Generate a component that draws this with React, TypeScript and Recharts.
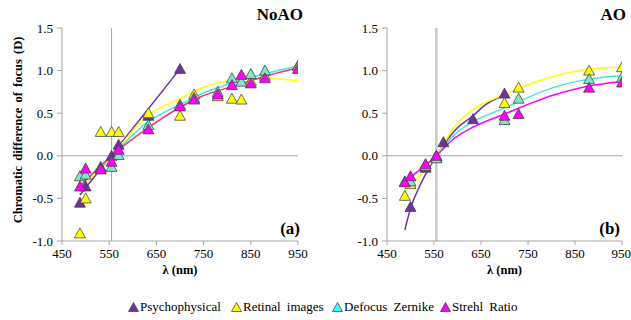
import React from "react";
import {
  ComposedChart,
  Scatter,
  Line,
  XAxis,
  YAxis,
  ReferenceLine,
} from "recharts";

// measured points, NoAO panel (a)
const noaoPsyWl = [488, 500, 532, 555, 570, 633, 700];
const noaoPsy = [-0.55, -0.36, -0.13, 0.0, 0.13, 0.47, 1.02];
const noaoWl = [488, 500, 532, 555, 570, 633, 700, 730, 780, 810, 830, 850, 880, 950];
const noaoRet = [-0.91, -0.5, 0.28, 0.28, 0.28, 0.5, 0.47, 0.72, 0.7, 0.67, 0.66, 0.88, 0.94, 1.06];
const noaoZer = [-0.24, -0.22, -0.15, -0.13, 0.01, 0.36, 0.6, 0.68, 0.75, 0.91, 0.87, 0.96, 1.0, 1.05];
const noaoStr = [-0.36, -0.15, -0.16, -0.07, 0.07, 0.31, 0.58, 0.66, 0.72, 0.83, 0.95, 0.85, 0.91, 1.02];

// measured points, AO panel (b)
const aoPsyWl = [500, 532, 555, 570, 633, 700];
const aoPsy = [-0.6, -0.14, 0.0, 0.16, 0.43, 0.73];
const aoWl = [488, 500, 532, 555, 700, 730, 880, 950];
const aoRet = [-0.47, -0.33, -0.1, -0.02, 0.62, 0.8, 1.0, 1.04];
const aoZer = [-0.3, -0.3, -0.12, -0.03, 0.42, 0.67, 0.9, 0.92];
const aoStr = [-0.31, -0.24, -0.1, 0.0, 0.47, 0.49, 0.8, 0.86];

// trendlines
const noaoPsyFitWl = [488, 700];
const noaoPsyFit = [-0.46, 1.02];
const noaoFitWl = [488, 555, 633, 700, 743, 814, 885, 949];
const noaoRetFit = [-0.4, 0.0, 0.48, 0.67, 0.79, 0.89, 0.91, 0.88];
const noaoZerFit = [-0.35, 0.0, 0.4, 0.6, 0.72, 0.86, 0.97, 1.05];
const noaoStrFit = [-0.36, 0.0, 0.33, 0.57, 0.69, 0.82, 0.94, 1.03];

const aoPsyFitWl = [488, 500, 520, 555, 600, 633, 660, 700];
const aoPsyFit = [-0.87, -0.62, -0.35, 0.0, 0.33, 0.47, 0.6, 0.71];
const aoFitWl = [488, 555, 592, 627, 700, 803, 880, 946];
const aoRetFit = [-0.42, 0.0, 0.33, 0.52, 0.72, 0.93, 1.02, 1.04];
const aoZerFit = [-0.3, 0.0, 0.24, 0.38, 0.56, 0.8, 0.9, 0.94];
const aoStrFit = [-0.3, 0.0, 0.2, 0.32, 0.49, 0.71, 0.82, 0.87];

const xTicks = [450, 550, 650, 750, 850, 950];
const yTicks = [-1, -0.5, 0, 0.5, 1, 1.5];

const legendNames = ["Psychophysical", "Retinal images", "Defocus Zernike", "Strehl Ratio"];
const legendColors = ["#7030A0", "#FFFF00", "#33FFFF", "#FF00FF"];

const FONT = "Liberation Serif, DejaVu Serif, serif";
const AXIS = "#A6A6A6";

const zip = (xs: number[], ys: number[]) => xs.map((x, i) => ({ x, y: ys[i] }));

const tri = (fill: string) => (props: any) => {
  const { cx, cy } = props;
  if (cx == null || cy == null) return <g />;
  return (
    <polygon
      points={`${cx},${cy - 5.5} ${cx + 5.5},${cy + 4.5} ${cx - 5.5},${cy + 4.5}`}
      fill={fill}
      stroke="#404040"
      strokeWidth={0.75}
    />
  );
};

interface Series {
  pts: { x: number; y: number }[];
  fit: { x: number; y: number }[];
  marker: string;
  line: string;
}

interface PanelProps {
  series: Series[];
  marginLeft: number;
  marginRight: number;
  width: number;
  refWidth: number;
  refColor: string;
}

const Panel: React.FC<PanelProps> = ({ series, marginLeft, marginRight, width, refWidth, refColor }) => (
  <ComposedChart
    width={width}
    height={320}
    margin={{ top: 28, right: marginRight, bottom: 49, left: marginLeft }}
    style={{ fontFamily: FONT }}
  >
    <XAxis
      type="number"
      dataKey="x"
      domain={[450, 950]}
      ticks={xTicks}
      allowDataOverflow
      height={30}
      stroke={AXIS}
      tickSize={4}
      tickMargin={4}
      tick={{ fill: "#000", fontSize: 13, fontFamily: FONT }}
      label={{
        value: "λ (nm)",
        position: "bottom",
        offset: -6,
        fill: "#000",
        fontSize: 12.5,
        fontWeight: "bold",
        fontFamily: FONT,
      }}
    />
    <YAxis
      type="number"
      dataKey="y"
      domain={[-1, 1.5]}
      ticks={yTicks}
      allowDataOverflow
      width={40}
      stroke={AXIS}
      tickSize={5}
      tickMargin={4}
      tickFormatter={(v: number) => v.toFixed(1)}
      tick={{ fill: "#000", fontSize: 13, fontFamily: FONT }}
    />
    <ReferenceLine y={0} stroke={AXIS} />
    <ReferenceLine x={555} stroke={refColor} strokeWidth={refWidth} />
    {series.map((s, i) => (
      <Scatter
        key={"s" + i}
        data={s.pts}
        dataKey="y"
        shape={tri(s.marker)}
        isAnimationActive={false}
      />
    ))}
    {series.map((s, i) => (
      <Line
        key={"l" + i}
        data={s.fit}
        dataKey="y"
        type="monotone"
        stroke={s.line}
        strokeWidth={1.5}
        dot={false}
        activeDot={false}
        isAnimationActive={false}
      />
    ))}
  </ComposedChart>
);

const noaoSeries: Series[] = [
  { pts: zip(noaoPsyWl, noaoPsy), fit: zip(noaoPsyFitWl, noaoPsyFit), marker: "#7030A0", line: "#7030A0" },
  { pts: zip(noaoWl, noaoRet), fit: zip(noaoFitWl, noaoRetFit), marker: "#FFFF00", line: "#FFFF00" },
  { pts: zip(noaoWl, noaoZer), fit: zip(noaoFitWl, noaoZerFit), marker: "#80E6C8", line: "#40E8D0" },
  { pts: zip(noaoWl, noaoStr), fit: zip(noaoFitWl, noaoStrFit), marker: "#FF00FF", line: "#F0338A" },
];

const aoSeries: Series[] = [
  { pts: zip(aoPsyWl, aoPsy), fit: zip(aoPsyFitWl, aoPsyFit), marker: "#7030A0", line: "#7030A0" },
  { pts: zip(aoWl, aoRet), fit: zip(aoFitWl, aoRetFit), marker: "#FFFF00", line: "#FFFF00" },
  { pts: zip(aoWl, aoZer), fit: zip(aoFitWl, aoZerFit), marker: "#80E6C8", line: "#40E8D0" },
  { pts: zip(aoWl, aoStr), fit: zip(aoFitWl, aoStrFit), marker: "#FF00FF", line: "#FF00FF" },
];

const bold: React.CSSProperties = {
  position: "absolute",
  fontFamily: FONT,
  fontWeight: "bold",
  color: "#000",
  whiteSpace: "nowrap",
};

const legendLefts = [128, 231, 332, 440];

export default function App() {
  return (
    <div
      style={{
        position: "absolute",
        left: 0,
        top: 0,
        width: 631,
        height: 320,
        background: "#fff",
        overflow: "hidden",
        fontFamily: FONT,
      }}
    >
      <div style={{ position: "absolute", left: 0, top: 0 }}>
        <Panel series={noaoSeries} width={316} marginLeft={22} marginRight={18} refWidth={1} refColor={AXIS} />
      </div>
      <div style={{ position: "absolute", left: 316, top: 0 }}>
        <Panel series={aoSeries} width={315} marginLeft={31} marginRight={9} refWidth={2.5} refColor="#C8C8C8" />
      </div>

      <div
        style={{
          ...bold,
          fontSize: 12.5,
          width: 240,
          height: 16,
          lineHeight: "16px",
          textAlign: "center",
          left: 18 - 120,
          top: 130 - 8,
          transform: "rotate(-90deg)",
          wordSpacing: 2,
        }}
      >
        Chromatic difference of focus (D)
      </div>

      <div style={{ ...bold, fontSize: 17, right: 631 - 303, top: 5, lineHeight: "20px" }}>NoAO</div>
      <div style={{ ...bold, fontSize: 17, right: 631 - 626, top: 5, lineHeight: "20px" }}>AO</div>
      <div style={{ ...bold, fontSize: 17, right: 631 - 300, top: 219, lineHeight: "20px" }}>(a)</div>
      <div style={{ ...bold, fontSize: 17, right: 631 - 620, top: 219, lineHeight: "20px" }}>(b)</div>

      {legendNames.map((name, i) => (
        <div
          key={name}
          style={{
            position: "absolute",
            left: legendLefts[i],
            top: 299,
            height: 16,
            display: "flex",
            alignItems: "center",
            fontFamily: FONT,
            fontSize: 13,
            color: "#000",
            whiteSpace: "nowrap",
            wordSpacing: 3,
          }}
        >
          <svg width={11} height={10} style={{ marginRight: 1 }}>
            <polygon points="5.5,0.5 10.5,9.5 0.5,9.5" fill={legendColors[i]} stroke="#404040" strokeWidth={0.75} />
          </svg>
          {name}
        </div>
      ))}
    </div>
  );
}
